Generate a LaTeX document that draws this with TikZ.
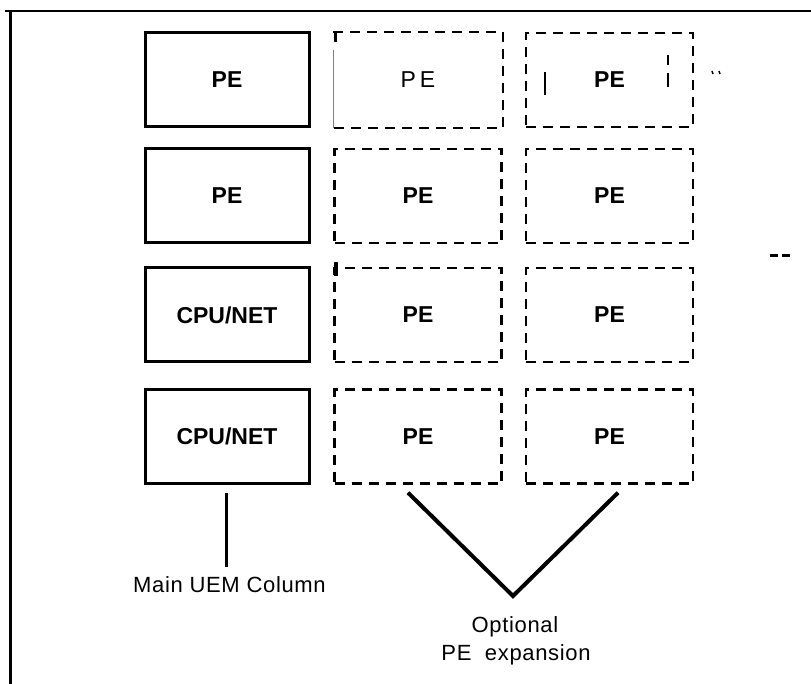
\documentclass[tikz,border=0pt]{standalone}
\usepackage{fontspec}
\setmainfont{Liberation Sans}
\begin{document}
\begin{tikzpicture}[x=1pt,y=-1pt,
  boxtext/.style={font=\fontsize{23}{26}\selectfont\bfseries},
  solidbox/.style={boxtext, draw, line width=3pt, minimum width=164pt, minimum height=94pt, inner sep=0pt},
  dashline/.style={line width=2.4pt, dash pattern=on 10pt off 7pt},
  dashbox/.style={boxtext, draw, dashline, minimum width=167pt, minimum height=94pt, inner sep=0pt},
  lbl/.style={font=\fontsize{22}{28}\selectfont\addfontfeatures{LetterSpace=3}, inner sep=0pt},
  conn/.style={line width=3pt},
  vconn/.style={line width=4pt, line join=miter}]
\useasboundingbox (0,0) rectangle (811,684);

% frame
\draw[line width=2.3pt] (5,11) -- (811,11);
\draw[line width=3.3pt] (10.7,10) -- (10.7,684);

% main column
\node[solidbox] (m1) at (227,80) {PE};
\node[solidbox] (m2) at (227,196) {PE};
\node[solidbox] (m3) at (227,315) {CPU/NET};
\node[solidbox] (m4) at (227,436.5) {CPU/NET};

% optional expansion, column 2
\node[dashbox, draw=none] (e21) at (418,80) {\mdseries P\,E};
\draw[dashline] (e21.north west) -- (e21.north east) -- (e21.south east) -- (e21.south west);
\draw[gray, line width=0.8pt] ([yshift=-18pt]e21.north west) -- (e21.south west);
\draw[line width=2.4pt] ([xshift=2pt,yshift=-1pt]e21.north west) -- ([xshift=2pt,yshift=-10pt]e21.north west);
\node[dashbox] (e22) at (418,196) {PE};
\node[dashbox] (e23) at (418,315) {PE};
\node[dashbox] (e24) at (418,436.5) {PE};
\draw[line width=3.5pt] (336,262) -- (336,276);

% optional expansion, column 3
\node[dashbox] (e31) at (609.5,80) {PE};
\node[dashbox] (e32) at (609.5,196) {PE};
\node[dashbox] (e33) at (609.5,315) {PE};
\node[dashbox] (e34) at (609.5,436.5) {PE};

% stray marks
\draw[line width=2pt] (545,72) -- (545,95);
\draw[line width=2pt] (668,55) -- (668,65) (668,73) -- (668,87);
\draw[line width=1.5pt] (712,71) -- (713,74) (719,71) -- (720,74);
\draw[line width=3pt] (770,256) -- (778,256) (782,256) -- (790,256);

% labels
\node[lbl, anchor=base west] (mainlbl) at (133,592) {Main UEM Column};
\node[lbl, anchor=base] (opt1) at (515,632) {Optional};
\node[lbl, anchor=base] (opt2) at (516,660) {PE\ \ expansion};

% connectors
\coordinate (mlow) at (226,567);
\draw[conn] ([xshift=-1pt,yshift=-8pt]m4.south) -- (mlow);
\coordinate (vl) at ([xshift=-10pt,yshift=-8pt]e24.south);
\coordinate (vr) at ([xshift=8.5pt,yshift=-8pt]e34.south);
\coordinate (vb) at (513,596);
\draw[vconn] (vl) -- (vb) -- (vr);
\end{tikzpicture}
\end{document}
